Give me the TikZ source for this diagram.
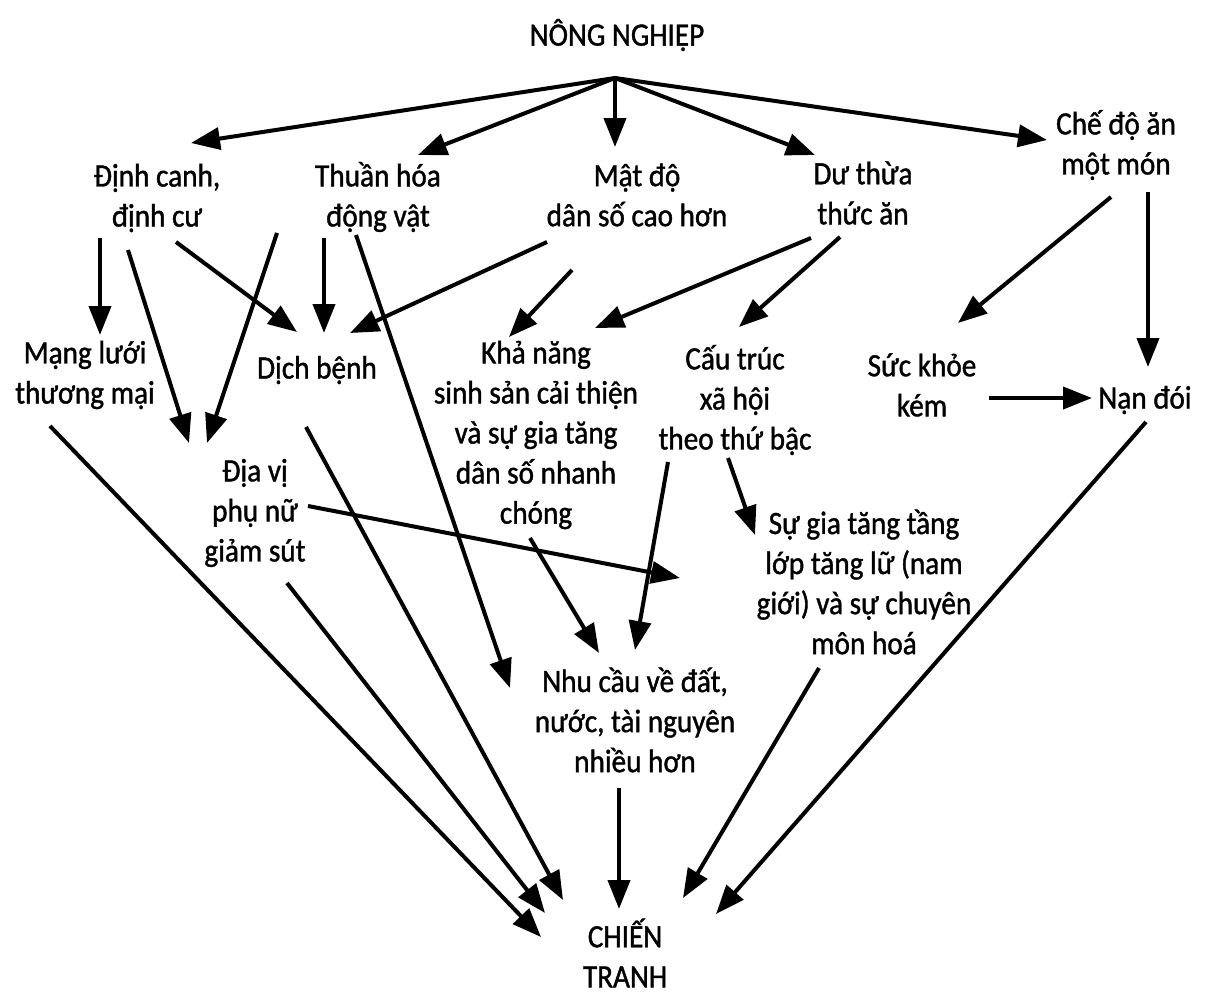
\documentclass[tikz,border=0pt]{standalone}
\usepackage{fontspec}
\setmainfont{Carlito}[FakeStretch=0.9,FakeBold=1.2]
\usetikzlibrary{arrows.meta,calc}
\tikzstyle{lbl}=[align=center, inner sep=0pt, font=\fontsize{18.5}{22.8}\selectfont]
\tikzset{flow/.style={-{Triangle[length=0.58cm,width=0.44cm]}, line width=0.08cm}}
\tikzset{y=-0.02cm}
\tikzset{x=0.02cm}
\begin{document}
\begin{tikzpicture}
  \useasboundingbox (0,0) rectangle (1207,1000);
  %% Source
  \draw (617,35) node[lbl] (nong) {NÔNG NGHIỆP};
  \coordinate (hub) at ($(nong)+(-2,43)$);

  %% First level
  \draw (157,198) node[lbl] (dinh) {Định canh,\\định cư};
  \draw (378,197) node[lbl] (thuan) {Thuần hóa\\động vật};
  \draw (637,195) node[lbl] (matdo) {Mật độ\\dân số cao hơn};
  \draw (863,193) node[lbl] (du) {Dư thừa\\thức ăn};
  \draw (1116,145) node[lbl] (che) {Chế độ ăn\\một món};

  %% Second level
  \draw (85,375) node[lbl] (mang) {Mạng lưới\\thương mại};
  \draw (317,370) node[lbl] (dich) {Dịch bệnh};
  \draw (536,435) node[lbl] (kha) {Khả năng\\sinh sản cải thiện\\và sự gia tăng\\dân số nhanh\\chóng};
  \draw (735,400) node[lbl] (cau) {Cấu trúc\\xã hội\\theo thứ bậc};
  \draw (922,385) node[lbl] (suc) {Sức khỏe\\kém};
  \draw (1145,400) node[lbl] (nan) {Nạn đói};

  %% Third level
  \draw (255,513) node[lbl] (diavi) {Địa vị\\phụ nữ\\giảm sút};
  \draw (864,582) node[lbl] (sugia) {Sự gia tăng tầng\\lớp tăng lữ (nam\\giới) và sự chuyên\\môn hoá};
  \draw (635,720) node[lbl] (nhu) {Nhu cầu về đất,\\nước, tài nguyên\\nhiều hơn};

  %% Sink
  \draw (625,953) node[lbl] (chien) {CHIẾN\\TRANH};

  %% From agriculture
  \draw[flow] (hub) -- ($(dinh)+(34,-55)$);
  \draw[flow] (hub) -- ($(thuan)+(40,-42)$);
  \draw[flow] (hub) -- ($(matdo)+(-22,-48)$);
  \draw[flow] (hub) -- ($(du)+(-48,-38)$);
  \draw[flow] (hub) -- ($(che)+(-69,-5)$);

  %% Middle links
  \draw[flow] ($(dinh)+(-57,40)$) -- ($(mang)+(15,-40)$);
  \draw[flow] ($(dinh)+(-29,52)$) -- ($(diavi)+(-66,-70)$);
  \draw[flow] ($(thuan)+(-101,36)$) -- ($(diavi)+(-48,-70)$);
  \draw[flow] ($(dinh)+(19,44)$) -- ($(dich)+(-20,-38)$);
  \draw[flow] ($(thuan)+(-54,41)$) -- ($(dich)+(7,-37)$);
  \draw[flow] ($(matdo)+(-90,47)$) -- ($(dich)+(33,-37)$);
  \draw[flow] ($(thuan)+(-22,38)$) -- ($(nhu)+(-125,-32)$);
  \draw[flow] ($(matdo)+(-65,75)$) -- ($(kha)+(-27,-98)$);
  \draw[flow] ($(du)+(-52,45)$) -- ($(kha)+(59,-107)$);
  \draw[flow] ($(du)+(-23,44)$) -- ($(cau)+(4,-73)$);
  \draw[flow] ($(che)+(-5,52)$) -- ($(suc)+(36,-62)$);
  \draw[flow] ($(che)+(32,47)$) -- ($(nan)+(3,-33)$);
  \draw[flow] ($(suc)+(67,13)$) -- ($(nan)+(-53,-2)$);
  \draw[flow] ($(diavi)+(53,-7)$) -- ($(nhu)+(45,-142)$);
  \draw[flow] ($(cau)+(-67,62)$) -- ($(nhu)+(0,-70)$);
  \draw[flow] ($(cau)+(-7,58)$) -- ($(sugia)+(-109,-47)$);
  \draw[flow] ($(kha)+(-6,103)$) -- ($(nhu)+(-36,-67)$);

  %% Into war
  \draw[flow] ($(mang)+(-35,51)$) -- ($(chien)+(-84,-16)$);
  \draw[flow] ($(dich)+(-11,57)$) -- ($(chien)+(-62,-53)$);
  \draw[flow] ($(diavi)+(32,70)$) -- ($(chien)+(-80,-40)$);
  \draw[flow] ($(nhu)+(-16,68)$) -- ($(chien)+(-6,-44)$);
  \draw[flow] ($(sugia)+(-45,86)$) -- ($(chien)+(58,-55)$);
  \draw[flow] ($(nan)+(1,22)$) -- ($(chien)+(91,-39)$);
\end{tikzpicture}
\end{document}
